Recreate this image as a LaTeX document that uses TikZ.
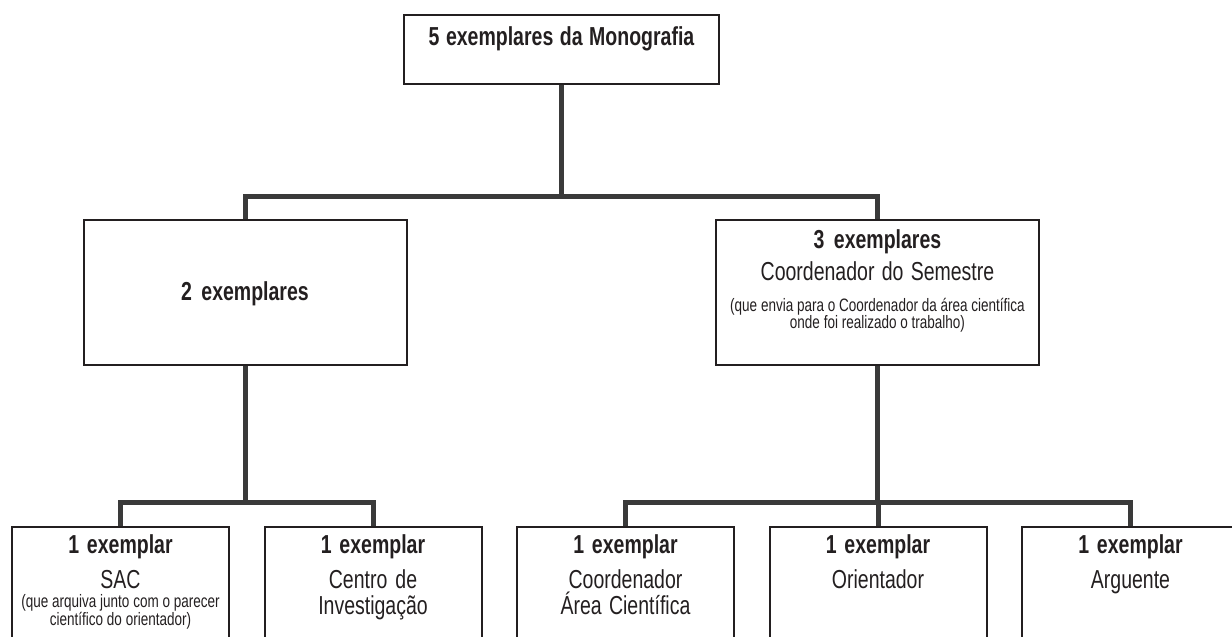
\documentclass[tikz,border=0pt]{standalone}
\usepackage{fontspec}
\setmainfont{Liberation Sans}[FakeStretch=0.75]
\usetikzlibrary{positioning}

\definecolor{ink}{HTML}{231F20}
\definecolor{wire}{HTML}{3A3A3A}
\newcommand{\nota}{\fontsize{9}{14}\selectfont\spaceskip=1.9pt plus 1pt\relax}
\newcommand{\corpo}{\fontsize{13}{14}\selectfont}

\tikzstyle{tblock} = [draw=ink,line width=1pt,rectangle,text=ink,align=center,inner sep=0pt,text width=157.5pt,text height=15.5pt,text depth=19pt,font=\corpo,execute at begin node={\spaceskip=2.8pt plus 1pt\relax}]
\tikzstyle{mblock} = [draw=ink,line width=1pt,rectangle,text=ink,align=center,inner sep=0pt,text width=161.5pt,text height=14pt,text depth=58.5pt,font=\corpo,execute at begin node={\spaceskip=2.8pt plus 1pt\relax},node distance=121.5pt]
\tikzstyle{bblock} = [draw=ink,line width=1pt,rectangle,text=ink,align=center,inner sep=0pt,text width=108.5pt,text height=13pt,text depth=53.5pt,font=\corpo,execute at begin node={\spaceskip=2.8pt plus 1pt\relax},node distance=126.25pt]
\tikzstyle{link}   = [draw=wire,line width=2.5pt]

\begin{document}
\begin{tikzpicture}[x=1pt,y=1pt]
			\useasboundingbox (0,0) rectangle (616,-318.5);
			\clip (0,0) rectangle (616,-318.5);

			\node [tblock](mono) at (280.75,-24.75){\bfseries 5 exemplares da Monografia};

			\node [mblock,below of=mono,xshift=-158.25pt,text height=40pt,text depth=32.5pt](dois){\bfseries 2 exemplares};
			\node [mblock,right of=dois,node distance=316.25pt](tres){{\bfseries 3 exemplares}\\[2pt] Coordenador do Semestre\\[1.5pt]
				\nota\mbox{(que envia para o Coordenador da área científica}\\[-5.5pt]\mbox{onde foi realizado o trabalho)}};

			\node [bblock,below of=dois,node distance=150.5pt,xshift=-62.25pt](sac){{\bfseries 1 exemplar}\\[3.5pt] SAC\\[-4.5pt]
				\nota\mbox{(que arquiva junto com o parecer}\\[-5pt]\mbox{científico do orientador)}};
			\node [bblock,right of=sac](centro){{\bfseries 1 exemplar}\\[3.5pt] Centro de\\[-1pt] Investigação};
			\node [bblock,right of=centro](coord){{\bfseries 1 exemplar}\\[3.5pt] Coordenador\\[-1pt] Área Científica};
			\node [bblock,right of=coord](orient){{\bfseries 1 exemplar}\\[3.5pt] Orientador};
			\node [bblock,right of=orient](arg){{\bfseries 1 exemplar}\\[3.5pt] Arguente};

			% ramos
			\path (dois.north) ++(0,11.5) coordinate (f dois);
			\path (tres.north) ++(0,11.5) coordinate (f tres);
			\path (sac.north) ++(0,12) coordinate (f sac);
			\path (centro.north) ++(0,12) coordinate (f centro);
			\path (coord.north) ++(0,12) coordinate (f coord);
			\path (orient.north) ++(0,12) coordinate (f orient);
			\path (arg.north) ++(0,12) coordinate (f arg);

			\draw [link] (mono.south) |- (f dois) -- (dois.north);
			\draw [link] (mono.south) |- (f tres) -- (tres.north);
			\draw [link] (dois.south) |- (f sac) -- (sac.north);
			\draw [link] (dois.south) |- (f centro) -- (centro.north);
			\draw [link] (tres.south) |- (f coord) -- (coord.north);
			\draw [link] (tres.south) |- (f orient) -- (orient.north);
			\draw [link] (tres.south) |- (f arg) -- (arg.north);
\end{tikzpicture}
\end{document}
